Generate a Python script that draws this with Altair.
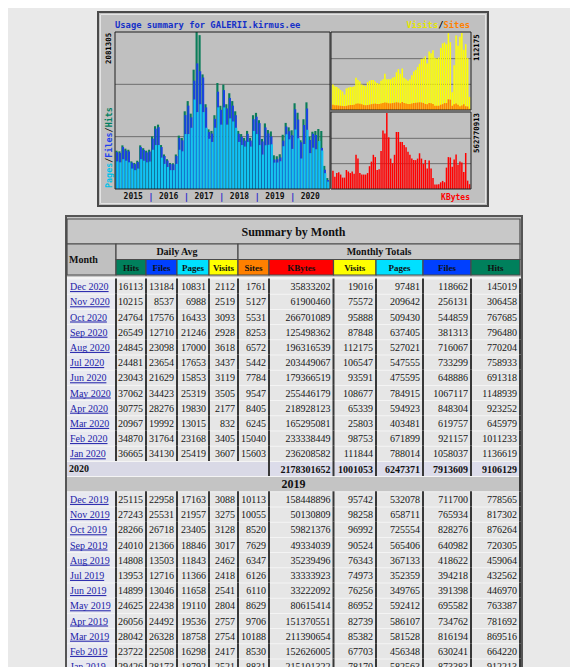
import altair as alt
import pandas as pd

SERIF = "Liberation Serif"
MONO = "DejaVu Sans Mono"

YEARS = [2015, 2016, 2017, 2018, 2019, 2020]

# ---------- monthly totals 2015-2018 (Jan..Dec) ----------
hits_2015_2018 = [507800, 499500, 578600, 534900, 520300, 366300, 345500, 374600, 578600, 541100, 507800, 520300,
                  697200, 832500, 853300, 582800, 457900, 395400, 345500, 341200, 457900, 707600, 676400, 1030200,
                  1165500, 999000, 1581800, 2081305, 2039700, 1519300, 1123900, 790900, 770100, 978200, 1404900, 1103100,
                  1384100, 1123900, 1269600, 1165500, 1030200, 770100, 728500, 676400, 770100, 676400, 978200, 1009400]
files_2015_2018 = [489000, 478000, 556000, 511000, 498000, 350000, 330000, 357000, 556000, 518000, 485000, 497000,
                   668000, 800000, 820000, 556000, 437000, 377000, 330000, 326000, 437000, 676000, 645000, 980000,
                   1105000, 950000, 1436000, 1665000, 1561000, 1478000, 1082000, 755000, 735000, 930000, 1290000, 1050000,
                   1311000, 1068000, 1207000, 1105000, 978000, 733000, 692000, 642000, 731000, 642000, 925000, 958000]
pages_2015_2018 = [366300, 353800, 395400, 374600, 353800, 270600, 249800, 270600, 395400, 374600, 353800, 364200,
                   520300, 582800, 582800, 416300, 333000, 291400, 249800, 249800, 333000, 520300, 499500, 728500,
                   728500, 811700, 1186300, 1019800, 1123900, 1019800, 811700, 666000, 624400, 811700, 1082300, 853300,
                   1082300, 853300, 936600, 895000, 811700, 624400, 582800, 562000, 624400, 562000, 770100, 728500]
visits_2015_2018 = [37020, 34770, 33650, 31410, 29170, 26920, 22440, 31410, 32530, 33650, 33650, 34770,
                    47110, 43750, 41500, 37020, 35900, 34770, 40380, 42630, 43750, 43750, 41500, 39260,
                    38140, 42630, 44870, 52720, 44870, 44870, 44870, 47110, 48240, 54970, 59450, 52720,
                    60570, 47110, 44870, 42630, 44870, 50480, 56090, 58330, 62820, 67310, 74040, 75160]
sites_2015_2018 = [7500, 7000, 6800, 6500, 6200, 5900, 5600, 6100, 6800, 7200, 7400, 7600,
                   9200, 9500, 9000, 8200, 7400, 6900, 7200, 7800, 8500, 9000, 9300, 8800,
                   8600, 9400, 10200, 11000, 10400, 9800, 9600, 10100, 10600, 11200, 10800, 9900,
                   11500, 10300, 9400, 8700, 8900, 9600, 10100, 10500, 10800, 11200, 10900, 10300]
kbytes_2015_2018 = [135065000, 90043000, 118182000, 123810000, 106926000, 84416000, 84416000, 140693000, 129437000, 118182000, 129437000, 112554000,
                    253247000, 225108000, 118182000, 106926000, 106926000, 106926000, 118182000, 168831000, 202598000, 253247000, 236364000, 140693000,
                    146320000, 281385000, 433334000, 410823000, 562770913, 382684000, 225108000, 191342000, 253247000, 422078000, 422078000, 348918000,
                    348918000, 326407000, 309524000, 275758000, 253247000, 225108000, 213853000, 213853000, 225108000, 264502000, 225108000, 185714000]

# ---------- table 2020 (Dec -> Jan) ----------
months_2020 = ["Dec 2020", "Nov 2020", "Oct 2020", "Sep 2020", "Aug 2020", "Jul 2020",
               "Jun 2020", "May 2020", "Apr 2020", "Mar 2020", "Feb 2020", "Jan 2020"]
d_hits_2020 = [16113, 10215, 24764, 26549, 24845, 24481, 23043, 37062, 30775, 20967, 34870, 36665]
d_files_2020 = [13184, 8537, 17576, 12710, 23098, 23654, 21629, 34423, 28276, 19992, 31764, 34130]
d_pages_2020 = [10831, 6988, 16433, 21246, 17000, 17653, 15853, 25319, 19830, 13015, 23168, 25419]
d_visits_2020 = [2112, 2519, 3093, 2928, 3618, 3437, 3119, 3505, 2177, 832, 3405, 3607]
sites_2020 = [1761, 5127, 5531, 8253, 6572, 5442, 7784, 9547, 8405, 6245, 15040, 15603]
kbytes_2020 = [35833202, 61900460, 266701089, 125498362, 196316539, 203449067, 179366519, 255446179,
               218928123, 165295081, 233338449, 236208582]
visits_2020 = [19016, 75572, 95888, 87848, 112175, 106547, 93591, 108677, 65339, 25803, 98753, 111844]
pages_2020 = [97481, 209642, 509430, 637405, 527021, 547555, 475595, 784915, 594923, 403481, 671899, 788014]
files_2020 = [118662, 256131, 544859, 381313, 716067, 733299, 648886, 1067117, 848304, 619757, 921157, 1058037]
hits_2020 = [145019, 306458, 767685, 796480, 770204, 758933, 691318, 1148939, 923252, 645979, 1011233, 1136619]
totals_2020 = [2178301652, 1001053, 6247371, 7913609, 9106129]

# ---------- table 2019 (Dec -> Jan) ----------
months_2019 = ["Dec 2019", "Nov 2019", "Oct 2019", "Sep 2019", "Aug 2019", "Jul 2019",
               "Jun 2019", "May 2019", "Apr 2019", "Mar 2019", "Feb 2019", "Jan 2019"]
d_hits_2019 = [25115, 27243, 28266, 24010, 14808, 13953, 14899, 24625, 26056, 28042, 23722, 29426]
d_files_2019 = [22958, 25531, 26718, 21366, 13503, 12716, 13046, 22438, 24492, 26328, 22508, 28173]
d_pages_2019 = [17163, 21957, 23405, 18846, 11843, 11366, 11658, 19110, 19536, 18758, 16298, 18792]
d_visits_2019 = [3088, 3275, 3128, 3017, 2462, 2418, 2541, 2804, 2757, 2754, 2417, 2521]
sites_2019 = [10113, 10055, 8520, 7629, 6347, 6126, 6110, 8629, 9706, 10188, 8530, 8831]
kbytes_2019 = [158448896, 50130809, 59821376, 49334039, 35239496, 33333923, 33222092, 80615414,
               151370551, 211390654, 152626005, 215101322]
visits_2019 = [95742, 98258, 96992, 90524, 76343, 74973, 76256, 86952, 82739, 85382, 67703, 78170]
pages_2019 = [532078, 658711, 725554, 565406, 367133, 352359, 349765, 592412, 586107, 581528, 456348, 582563]
files_2019 = [711700, 765934, 828276, 640982, 418622, 394218, 391398, 695582, 734762, 816194, 630241, 873383]
hits_2019 = [778565, 817302, 876264, 720305, 459064, 432562, 446970, 763387, 781692, 869516, 664220, 912213]

HEAD_LABELS = ["Hits", "Files", "Pages", "Visits", "Sites", "KBytes", "Visits", "Pages", "Files", "Hits"]

# ---------- colours ----------
C_HITS, C_FILES, C_PAGES = "#0b7d5a", "#1a44e0", "#12c4f0"
C_VISITS, C_SITES, C_KB = "#ffff00", "#ff8000", "#ff0000"
HEAD_COLORS = ["#00805c", "#0040ff", "#00e0ff", "#ffff00", "#ff8000", "#ff0000",
               "#ffff00", "#00e0ff", "#0040ff", "#00805c"]
# approximate underline length (px) of each month link at 10px serif
UL_LEN = {"Dec": 38.6, "Nov": 39.7, "Oct": 36.9, "Sep": 37.5, "Aug": 39.7, "Jul": 34.2,
          "Jun": 36.4, "May": 40.8, "Apr": 38.1, "Mar": 39.2, "Feb": 37.5, "Jan": 35.8}


def V(p):
    return p - 8


one = pd.DataFrame({"a": [0]})


def box(x1, y1, x2, y2, **kw):
    return alt.Chart(one).mark_rect(**kw).encode(
        x=alt.value(V(x1)), x2=alt.value(V(x2)), y=alt.value(V(y1)), y2=alt.value(V(y2)))


def label(txt, x, y, **kw):
    kw.setdefault("baseline", "middle")
    return alt.Chart(one).mark_text(text=txt, **kw).encode(x=alt.value(V(x)), y=alt.value(V(y)))


layers = []

# ================= graph image =================
keys = [f"{y}-{m:02d}" for y in YEARS for m in range(1, 13)]
hits = hits_2015_2018 + hits_2019[::-1] + hits_2020[::-1]
files = files_2015_2018 + files_2019[::-1] + files_2020[::-1]
pages = pages_2015_2018 + pages_2019[::-1] + pages_2020[::-1]
visits = visits_2015_2018 + visits_2019[::-1] + visits_2020[::-1]
sites = sites_2015_2018 + sites_2019[::-1] + sites_2020[::-1]
kbytes = kbytes_2015_2018 + kbytes_2019[::-1] + kbytes_2020[::-1]
series = pd.DataFrame({"m": keys, "hits": hits, "files": files, "pages": pages,
                       "visits": visits, "sites": sites, "kb": kbytes})
MAXH, MAXV, MAXK = max(hits), max(visits), max(kbytes)

layers.append(box(98, 12, 488, 206, fill="#c0c0c0", stroke="#4a4a4a", strokeWidth=2))
layers.append(box(100.5, 14.5, 485.5, 203.5, fill="transparent", stroke="#e4e4e4", strokeWidth=1))

xL = alt.Scale(domain=keys, range=[V(115.5), V(329)], paddingInner=0.28, paddingOuter=0.1)
yL = alt.Scale(domain=[0, MAXH], range=[V(189), V(32)], nice=False, zero=False)
xR = alt.Scale(domain=keys, range=[V(332), V(470.5)], paddingInner=0.22, paddingOuter=0.1)
yV = alt.Scale(domain=[0, MAXV], range=[V(110), V(33)], nice=False, zero=False)
yK = alt.Scale(domain=[0, MAXK], range=[V(189), V(113)], nice=False, zero=False)


def grid(ys, mx, x1, x2):
    df = pd.DataFrame({"v": [mx / 3, 2 * mx / 3]})
    return alt.Chart(df).mark_rule(color="#6e6e6e", strokeWidth=1).encode(
        y=alt.Y("v:Q", scale=ys, axis=None), x=alt.value(V(x1)), x2=alt.value(V(x2)))


layers += [grid(yL, MAXH, 115, 330), grid(yV, MAXV, 331, 471), grid(yK, MAXK, 331, 471)]


def bars(field, color, xs, ys, off=0.0):
    return alt.Chart(series).mark_bar(color=color, xOffset=off).encode(
        x=alt.X("m:O", scale=xs, axis=None), y=alt.Y(f"{field}:Q", scale=ys, axis=None))


layers += [bars("hits", C_HITS, xL, yL, -0.4), bars("files", C_FILES, xL, yL, 0.2),
           bars("pages", C_PAGES, xL, yL, 0.6),
           bars("visits", C_VISITS, xR, yV), bars("sites", C_SITES, xR, yV),
           bars("kb", C_KB, xR, yK)]

for (a, b, c, d) in [(115, 32, 330, 189), (331, 32, 471, 110), (331, 112, 471, 189)]:
    layers.append(box(a, b, c, d, fill="transparent", stroke="#1e1e1e", strokeWidth=1))

# graph texts
layers.append(label("Usage summary for GALERII.kirmus.ee", 115, 25, font=MONO, fontSize=8.8,
                    fontWeight="bold", color="#1530c8", align="left"))
cw = 0.602 * 8.8
xx = 470 - 12 * cw
for s, c in [("Visits", "#e6e600"), ("/", "#000000"), ("Sites", "#ff8000")]:
    layers.append(label(s, xx, 25, font=MONO, fontSize=8.8, fontWeight="bold", color=c, align="left"))
    xx += len(s) * cw
cw2 = 0.602 * 8.4
yy = 188
for s, c in [("Pages", "#00c0e8"), ("/", "#000000"), ("Files", "#2040f0"), ("/", "#000000"), ("Hits", "#008060")]:
    layers.append(label(s, 108.5, yy, font=MONO, fontSize=8.4, fontWeight="bold", color=c,
                        align="left", angle=270))
    yy -= len(s) * cw2
layers.append(label(str(MAXH), 108.5, 64, font=MONO, fontSize=7.4, fontWeight="bold", color="#000000",
                    align="left", angle=270))
layers.append(label(str(MAXV), 476.5, 61, font=MONO, fontSize=7.4, fontWeight="bold", color="#000000",
                    align="left", angle=270))
layers.append(label(str(MAXK), 476.5, 153, font=MONO, fontSize=7.4, fontWeight="bold", color="#000000",
                    align="left", angle=270))
layers.append(label("KBytes", 470, 198, font=MONO, fontSize=8, fontWeight="bold", color="#ff0000", align="right"))

yr_scale = alt.Scale(domain=[2015, 2021], range=[V(115.5), V(328)], nice=False, zero=False)
year_df = pd.DataFrame({"mid": [y + 0.5 for y in YEARS], "lab": [str(y) for y in YEARS]})
sep_df = pd.DataFrame({"b": YEARS[1:]})
layers.append(alt.Chart(year_df).mark_text(font=MONO, fontSize=8, fontWeight="bold", color="#111111",
                                           baseline="middle").encode(
    x=alt.X("mid:Q", scale=yr_scale, axis=None), y=alt.value(V(197)), text="lab:N"))
layers.append(alt.Chart(sep_df).mark_text(text="|", font=MONO, fontSize=9, fontWeight="bold", color="#3030cc",
                                          baseline="middle").encode(
    x=alt.X("b:Q", scale=yr_scale, axis=None), y=alt.value(V(197))))

# ================= table =================
EDGE_PX = [67, 116, 146, 177, 209, 238, 269, 333.5, 376, 423, 471, 520]
ROW_IDX = [-3, -2, -1, -0.2, 0, 26]
ROW_PX = [219, 244, 259.5, 275, 278.5, 278.5 + 26 * 15.2]
xs_t = alt.Scale(domain=list(range(12)), range=[V(p) for p in EDGE_PX], nice=False, zero=False)
ys_t = alt.Scale(domain=ROW_IDX, range=[V(p) for p in ROW_PX], nice=False, zero=False)

layers.append(box(66, 216, 522, 700, fill="#c6c6c6", stroke="#555555", strokeWidth=2))
layers.append(box(67, 277, 521, 700, fill="#f4f4f4"))

head = [dict(x0=0, x1=11, y0=-3, y1=-2, f="#c8c8c8"),
        dict(x0=0, x1=1, y0=-2, y1=-0.2, f="#c0c0c0"),
        dict(x0=1, x1=5, y0=-2, y1=-1, f="#c8c8c8"),
        dict(x0=5, x1=11, y0=-2, y1=-1, f="#c8c8c8")]
for k, c in enumerate(HEAD_COLORS):
    head.append(dict(x0=k + 1, x1=k + 2, y0=-1, y1=-0.2, f=c))
head_df = pd.DataFrame(head)
layers.append(alt.Chart(head_df).mark_rect(stroke="#4a4a4a", strokeWidth=1.2).encode(
    x=alt.X("x0:Q", scale=xs_t, axis=None), x2="x1:Q",
    y=alt.Y("y0:Q", scale=ys_t, axis=None), y2="y1:Q",
    color=alt.Color("f:N", scale=None)))


def cx(a, b):
    return (EDGE_PX[a] + EDGE_PX[b]) / 2


layers.append(label("Summary by Month", cx(0, 11), 231.5, font=SERIF, fontSize=12, fontWeight="bold",
                    color="#111111", align="center"))
layers.append(label("Month", 69, 260, font=SERIF, fontSize=10, fontWeight="bold", color="#111111", align="left"))
layers.append(label("Daily Avg", cx(1, 5), 252, font=SERIF, fontSize=10, fontWeight="bold", color="#111111",
                    align="center"))
layers.append(label("Monthly Totals", cx(5, 11), 252, font=SERIF, fontSize=10, fontWeight="bold",
                    color="#111111", align="center"))
for k, t in enumerate(HEAD_LABELS):
    layers.append(label(t, cx(k + 1, k + 2), 267.5, font=SERIF, fontSize=9, fontWeight="bold",
                        color="#111111", align="center"))

# rows
cells, nums, mons, rules, bold_nums = [], [], [], [], []


def add_month_rows(r0, names, cols):
    for i, name in enumerate(names):
        r = r0 + i
        cells.append(dict(c0=0, c1=1, r=r, r2=r + 1, f="#e8e9f0"))
        mons.append(dict(c0=0, ym=r + 0.5, t=name, ab=name[:3]))
        for k in range(10):
            cells.append(dict(c0=k + 1, c1=k + 2, r=r, r2=r + 1, f="#e6e6e6"))
            nums.append(dict(c1=k + 2, ym=r + 0.5, t=str(cols[k][i])))
            rules.append(dict(e=k + 1, r=r, r2=r + 1))
        rules.append(dict(e=11, r=r, r2=r + 1))


add_month_rows(0, months_2020, [d_hits_2020, d_files_2020, d_pages_2020, d_visits_2020, sites_2020,
                                kbytes_2020, visits_2020, pages_2020, files_2020, hits_2020])
# totals row 2020
cells.append(dict(c0=0, c1=6, r=12, r2=13, f="#d9d9e6"))
for k, v in enumerate(totals_2020):
    cells.append(dict(c0=k + 6, c1=k + 7, r=12, r2=13, f="#dcdcea"))
    bold_nums.append(dict(c1=k + 7, ym=12.5, t=str(v)))
    rules.append(dict(e=k + 6, r=12, r2=13))
rules.append(dict(e=11, r=12, r2=13))
# year band
cells.append(dict(c0=0, c1=11, r=13, r2=14, f="#c4c4c4"))
rules.append(dict(e=11, r=13, r2=14))
add_month_rows(14, months_2019, [d_hits_2019, d_files_2019, d_pages_2019, d_visits_2019, sites_2019,
                                 kbytes_2019, visits_2019, pages_2019, files_2019, hits_2019])

cells_df, nums_df, mons_df = pd.DataFrame(cells), pd.DataFrame(nums), pd.DataFrame(mons)
rules_df, bold_df = pd.DataFrame(rules), pd.DataFrame(bold_nums)

layers.append(alt.Chart(cells_df).mark_rect(yOffset=1).encode(
    x=alt.X("c0:Q", scale=xs_t, axis=None), x2="c1:Q",
    y=alt.Y("r:Q", scale=ys_t, axis=None), y2="r2:Q",
    color=alt.Color("f:N", scale=None)))
layers.append(alt.Chart(rules_df).mark_rule(color="#383838", strokeWidth=2).encode(
    x=alt.X("e:Q", scale=xs_t, axis=None),
    y=alt.Y("r:Q", scale=ys_t, axis=None), y2="r2:Q"))
layers.append(alt.Chart(nums_df).mark_text(align="right", baseline="middle", dx=-3, dy=1, font=SERIF,
                                           fontSize=10, color="#151515").encode(
    x=alt.X("c1:Q", scale=xs_t, axis=None), y=alt.Y("ym:Q", scale=ys_t, axis=None), text="t:N"))
layers.append(alt.Chart(bold_df).mark_text(align="right", baseline="middle", dx=-3, dy=1, font=SERIF,
                                           fontSize=10, fontWeight="bold", color="#111111").encode(
    x=alt.X("c1:Q", scale=xs_t, axis=None), y=alt.Y("ym:Q", scale=ys_t, axis=None), text="t:N"))
layers.append(alt.Chart(mons_df).mark_text(align="left", baseline="middle", dx=3, dy=1, font=SERIF,
                                           fontSize=10, color="#1c1ca8").encode(
    x=alt.X("c0:Q", scale=xs_t, axis=None), y=alt.Y("ym:Q", scale=ys_t, axis=None), text="t:N"))
for ab, ln in UL_LEN.items():
    sub = mons_df[mons_df["ab"] == ab]
    if len(sub) == 0:
        continue
    layers.append(alt.Chart(sub).mark_rule(color="#1c1ca8", strokeWidth=1, xOffset=3, x2Offset=3 + ln,
                                           yOffset=5.5, y2Offset=5.5).encode(
        x=alt.X("c0:Q", scale=xs_t, axis=None), x2="c0:Q",
        y=alt.Y("ym:Q", scale=ys_t, axis=None), y2="ym:Q"))

layers.append(label("2020", 69, 279 + 12.5 * 15.2, font=SERIF, fontSize=10, fontWeight="bold",
                    color="#111111", align="left"))
layers.append(label("2019", cx(0, 11), 279 + 13.5 * 15.2, font=SERIF, fontSize=12, fontWeight="bold",
                    color="#111111", align="center"))

chart = alt.layer(*layers).resolve_scale(x="independent", y="independent").properties(
    width=562, height=659, padding=0, autosize=alt.AutoSizeParams(type="none"),
    background="#e9e9e9").configure_view(strokeWidth=0)

chart.save("out.html", embed_options={"renderer": "svg", "actions": False})
